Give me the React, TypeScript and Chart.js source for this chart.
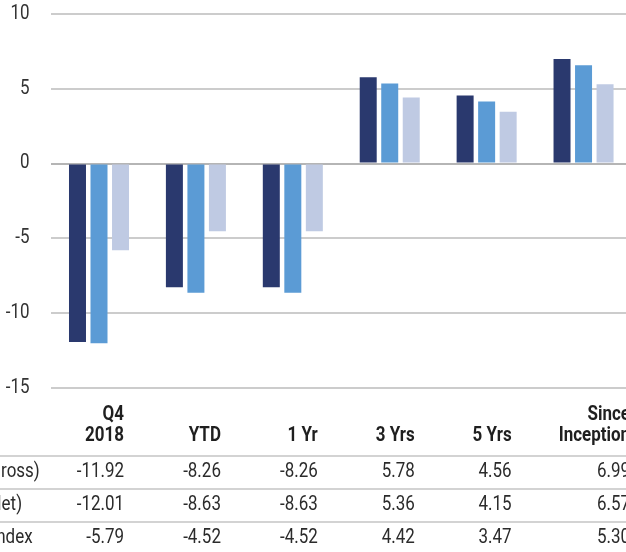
import React, { useEffect, useRef } from 'react';
import { Chart, registerables } from 'chart.js';

Chart.register(...registerables);

const categories = ['Q4 2018', 'YTD', '1 Yr', '3 Yrs', '5 Yrs', 'Since Inception'];
const headerLines = [['Q4', '2018'], ['YTD'], ['1 Yr'], ['3 Yrs'], ['5 Yrs'], ['Since', 'Inception']];
const seriesNames = ['Fund (Gross)', 'Fund (Net)', 'Policy Index'];
const grossValues = [-11.92, -8.26, -8.26, 5.78, 4.56, 6.99];
const netValues = [-12.01, -8.63, -8.63, 5.36, 4.15, 6.57];
const indexValues = [-5.79, -4.52, -4.52, 4.42, 3.47, 5.3];
const yMin = -15;
const yMax = 10;
const yStep = 5;

const seriesColors = ['#2a396e', '#5b9bd5', '#bfcae3'];
const FONT = "Roboto, 'DejaVu Sans Condensed', sans-serif";
const FONT_SIZE = 19.5;
const SX = 0.87;
const OFFSET = 120;

function drawText(
  ctx: CanvasRenderingContext2D,
  text: string,
  x: number,
  y: number,
  align: CanvasTextAlign
) {
  ctx.save();
  ctx.translate(x, y);
  ctx.scale(SX, 1);
  ctx.textAlign = align;
  ctx.textBaseline = 'middle';
  ctx.fillText(text, 0, 0);
  ctx.restore();
}

const tablePlugin = {
  id: 'perfTable',
  afterDraw(chart: any) {
    const ctx = chart.ctx as CanvasRenderingContext2D;
    const xs = chart.scales.x;
    const ys = chart.scales.y;
    const area = chart.chartArea;
    const W = chart.width;
    const base = area.bottom;
    const rows = [grossValues, netValues, indexValues];
    const colRight = (i: number) =>
      i === categories.length - 1 ? area.right - 2 : xs.getPixelForValue(i) + 25;
    ctx.save();
    // y tick labels
    ctx.fillStyle = '#333333';
    ctx.font = `${FONT_SIZE}px ${FONT}`;
    ys.ticks.forEach((t: any) => {
      drawText(ctx, String(t.value), area.left - 21, ys.getPixelForValue(t.value), 'right');
    });
    // separator lines
    ctx.strokeStyle = '#d3d3d3';
    ctx.lineWidth = 2;
    for (let r = 0; r < 4; r++) {
      const ly = base + 68 + 33 * r;
      ctx.beginPath();
      ctx.moveTo(0, ly);
      ctx.lineTo(W, ly);
      ctx.stroke();
    }
    // headers
    ctx.fillStyle = '#1f1f1f';
    ctx.font = `bold ${FONT_SIZE}px ${FONT}`;
    headerLines.forEach((lines, i) => {
      const xr = colRight(i);
      const n = lines.length;
      lines.forEach((t, k) => {
        const yy = base + 48.5 - (n - 1 - k) * 21;
        drawText(ctx, t, xr, yy, 'right');
      });
    });
    // values
    ctx.font = `${FONT_SIZE}px ${FONT}`;
    ctx.fillStyle = '#2b2b2b';
    rows.forEach((vals, r) => {
      const yy = base + 84.5 + 33 * r;
      drawText(ctx, seriesNames[r], OFFSET - 58, yy, 'left');
      vals.forEach((v, i) => {
        drawText(ctx, v.toFixed(2), colRight(i), yy, 'right');
      });
    });
    ctx.restore();
  },
};

export default function App() {
  const ref = useRef<HTMLCanvasElement | null>(null);
  useEffect(() => {
    if (!ref.current) return;
    const chart = new Chart(ref.current, {
      type: 'bar',
      data: {
        labels: categories,
        datasets: [
          { label: seriesNames[0], data: grossValues, backgroundColor: seriesColors[0] },
          { label: seriesNames[1], data: netValues, backgroundColor: seriesColors[1] },
          { label: seriesNames[2], data: indexValues, backgroundColor: seriesColors[2] },
        ],
      },
      options: {
        responsive: false,
        animation: false,
        layout: { padding: { top: 14, right: 8, bottom: 172, left: 0 } },
        datasets: { bar: { categoryPercentage: 0.666, barPercentage: 0.79 } },
        plugins: { legend: { display: false }, tooltip: { enabled: false } },
        scales: {
          x: { display: false },
          y: {
            min: yMin,
            max: yMax,
            afterFit: (s: any) => {
              s.width = OFFSET + 50.55;
            },
            ticks: { stepSize: yStep, display: false },
            border: { display: false },
            grid: {
              drawTicks: false,
              lineWidth: 2,
              color: (c: any) => (c.tick && c.tick.value === 0 ? '#b5b5b5' : '#cccccc'),
            },
          },
        },
      },
      plugins: [tablePlugin],
    });
    return () => chart.destroy();
  }, []);
  return (
    <div
      style={{
        position: 'fixed',
        left: 0,
        top: 0,
        width: 626,
        height: 552,
        overflow: 'hidden',
        background: '#ffffff',
      }}
    >
      <div style={{ position: 'absolute', left: -OFFSET, top: 0 }}>
        <canvas ref={ref} width={OFFSET + 640} height={560} style={{ display: 'block' }} />
      </div>
    </div>
  );
}
